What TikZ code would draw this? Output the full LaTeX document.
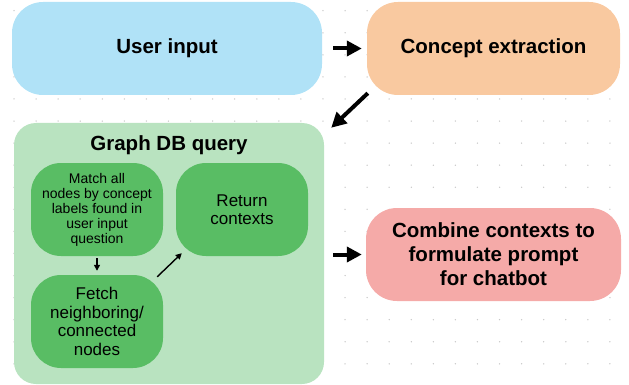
\documentclass[tikz,border=0pt]{standalone}
\usepackage{fontspec}
\setmainfont{Liberation Sans}
\usetikzlibrary{arrows.meta}
\definecolor{userblue}{HTML}{B0E2F7}
\definecolor{conceptpeach}{HTML}{F9C9A0}
\definecolor{panelgreen}{HTML}{B9E3C0}
\definecolor{stepgreen}{HTML}{59BD64}
\definecolor{combinepink}{HTML}{F5AAA8}
\definecolor{dotgray}{HTML}{C8C8C8}
\newcommand\boxfont{\fontsize{20.5}{24}\selectfont\bfseries}
\newcommand\stepfont{\fontsize{17}{18.5}\selectfont}
\newcommand\smallstepfont{\fontsize{14}{15}\selectfont}
\begin{document}
\begin{tikzpicture}[x=1pt, y=-1pt,
		bigbox/.style={rounded corners=31pt, minimum height=93pt, inner sep=0pt, align=center, font=\boxfont},
		stepbox/.style={fill=stepgreen, rounded corners=30pt, minimum width=132pt, minimum height=93pt, inner sep=0pt, align=center, font=\stepfont},
		bigarrow/.style={line width=4pt, -{Triangle[length=15pt,width=15pt]}},
		smallarrow/.style={line width=1.4pt, -{Triangle[length=6pt,width=6pt]}}]
	\useasboundingbox (0,0) rectangle (629,385);
	% dotted canvas
	\foreach \i in {0,...,27}
		\foreach \j in {0,...,16}
			\fill[dotgray] ({14+22.07*\i},{10.7+22.07*\j}) circle (0.75pt);
	\node[bigbox, fill=userblue, minimum width=310pt] (user) at (167,48.5) {User input};
	\node[bigbox, fill=conceptpeach, minimum width=253pt] (concept) at (493.5,48.5) {Concept extraction};
	\node[fill=panelgreen, rounded corners=22pt, minimum width=310pt, minimum height=261pt, inner sep=0pt] (gdb) at (169,253.5) {};
	\node[font=\boxfont] (gdbtitle) at (169,145) {Graph DB query};
	\node[stepbox, font=\smallstepfont] (match) at (97,209.5) {Match all\\nodes by concept\\labels found in\\user input\\question};
	\node[stepbox] (ret) at (242,209.5) {Return\\contexts};
	\node[stepbox] (fetch) at (97,321.5) {Fetch\\neighboring/\\connected\\nodes};
	\node[bigbox, fill=combinepink, minimum width=255pt] (combine) at (493.5,254.5) {Combine contexts to\\formulate prompt\\for chatbot};
	\draw[bigarrow, shorten <=11pt, shorten >=5pt] (user) -- (concept);
	\draw[bigarrow] ([shift={(1,-2)}]concept.south west) -- ([shift={(7,5)}]gdb.north east);
	\draw[smallarrow, shorten <=2pt, shorten >=4pt] (match) -- (fetch);
	\draw[smallarrow] ([shift={(-6,2)}]fetch.north east) -- ([shift={(6,-3)}]ret.south west);
	\draw[bigarrow, shorten <=9pt, shorten >=4pt] (gdb.east |- combine.west) -- (combine.west);
\end{tikzpicture}
\end{document}
